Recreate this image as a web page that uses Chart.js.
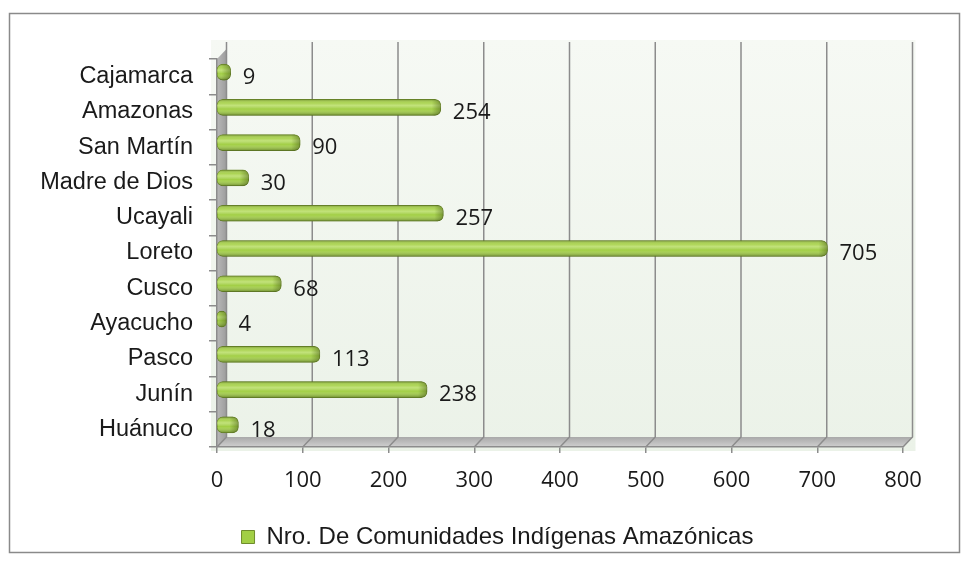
<!DOCTYPE html>
<html>
<head>
<meta charset="utf-8">
<script src="https://cdn.jsdelivr.net/npm/chart.js@4.4.1/dist/chart.umd.min.js"></script>
<style>
  html, body { margin: 0; padding: 0; background: #ffffff; }
  canvas { display: block; }
</style>
</head>
<body>
<canvas id="grafico" width="966" height="567"></canvas>
<script>
// Comunidades indígenas amazónicas por región
const regiones = ['Cajamarca', 'Amazonas', 'San Martín', 'Madre de Dios', 'Ucayali', 'Loreto', 'Cusco', 'Ayacucho', 'Pasco', 'Junín', 'Huánuco'];
const comunidades = [9, 254, 90, 30, 257, 705, 68, 4, 113, 238, 18];
const serieNombre = 'Nro. De Comunidades Indígenas Amazónicas';
const ejeMin = 0;
const ejeMax = 800;
const ejePaso = 100;

// Profundidad del efecto 3D (pared de fondo y barras)
const PROF_X = 9.5, PROF_Y = -10;
const BARRA_DX = 6, BARRA_DY = -4.5;
// desplazamiento horizontal de la leyenda
const LEYENDA_DX = 40;

const GRIS = '#8c8c8c';
const TEXTO = '#1a1a1a';

const efecto3D = {
  id: 'efecto3D',
  afterLayout(chart) {
    chart.legend.left += LEYENDA_DX;
    chart.legend.right += LEYENDA_DX;
  },
  beforeDraw(chart) {
    const ctx = chart.ctx;
    const { left, right, top, bottom } = chart.chartArea;
    ctx.save();
    // fondo y marco exterior
    ctx.fillStyle = '#ffffff';
    ctx.fillRect(0, 0, chart.width, chart.height);
    ctx.strokeStyle = '#8a8a8a';
    ctx.lineWidth = 1.5;
    ctx.strokeRect(9.5, 13.5, 950, 539);

    // fondo del área de trazado
    const g = ctx.createLinearGradient(0, top - 19, 0, bottom + 4);
    g.addColorStop(0, '#f6f9f4');
    g.addColorStop(1, '#ebf2e8');
    ctx.fillStyle = g;
    ctx.fillRect(left - 6, top - 19, right - left + PROF_X + 9, bottom - top + 23);

    // pared lateral
    const gl = ctx.createLinearGradient(left, 0, left + PROF_X, 0);
    gl.addColorStop(0, '#b8b8b8');
    gl.addColorStop(1, '#9c9c9c');
    ctx.fillStyle = gl;
    ctx.beginPath();
    ctx.moveTo(left, top);
    ctx.lineTo(left + PROF_X, top + PROF_Y);
    ctx.lineTo(left + PROF_X, bottom + PROF_Y);
    ctx.lineTo(left, bottom);
    ctx.closePath();
    ctx.fill();

    // piso
    const gp = ctx.createLinearGradient(0, bottom + PROF_Y, 0, bottom);
    gp.addColorStop(0, '#a9a9a9');
    gp.addColorStop(1, '#cfcfcf');
    ctx.fillStyle = gp;
    ctx.beginPath();
    ctx.moveTo(left, bottom);
    ctx.lineTo(right, bottom);
    ctx.lineTo(right + PROF_X, bottom + PROF_Y);
    ctx.lineTo(left + PROF_X, bottom + PROF_Y);
    ctx.closePath();
    ctx.fill();

    // líneas de división sobre la pared de fondo y el piso
    const xs = chart.scales.x;
    ctx.strokeStyle = GRIS;
    ctx.lineWidth = 1.5;
    for (let v = ejeMin; v <= ejeMax; v += ejePaso) {
      const px = xs.getPixelForValue(v);
      const bx = px + PROF_X;
      ctx.beginPath();
      ctx.moveTo(px, bottom);
      ctx.lineTo(bx, bottom + PROF_Y);
      ctx.lineTo(bx, top - 17);
      ctx.stroke();
    }
    ctx.restore();
  },
  afterDatasetsUpdate(chart) {
    const left = chart.chartArea.left;
    chart.getDatasetMeta(0).data.forEach(el => {
      el.x += BARRA_DX;
      el.y += BARRA_DY;
      el.base = left;
    });
  },
  afterDatasetsDraw(chart) {
    const ctx = chart.ctx;
    const meta = chart.getDatasetMeta(0);
    ctx.save();
    // volumen de cada barra
    meta.data.forEach(el => {
      const h = el.height;
      const x0 = el.base, x1 = el.x;
      const y0 = el.y - h / 2;
      const r = Math.min(6, (x1 - x0) / 2, h / 2);
      ctx.beginPath();
      ctx.roundRect(x0, y0, x1 - x0, h, r);
      const gv = ctx.createLinearGradient(0, y0, 0, y0 + h);
      gv.addColorStop(0, 'rgba(70,95,20,0.5)');
      gv.addColorStop(0.22, 'rgba(255,255,220,0.10)');
      gv.addColorStop(0.38, 'rgba(240,255,200,0.40)');
      gv.addColorStop(0.6, 'rgba(255,255,255,0)');
      gv.addColorStop(1, 'rgba(55,75,15,0.5)');
      ctx.fillStyle = gv;
      ctx.fill();
      const gh = ctx.createLinearGradient(x1 - 9, 0, x1, 0);
      gh.addColorStop(0, 'rgba(60,80,15,0)');
      gh.addColorStop(1, 'rgba(60,80,15,0.45)');
      ctx.fillStyle = gh;
      ctx.fill();
    });
    // valores de cada barra
    const xs = chart.scales.x, ys = chart.scales.y;
    ctx.font = '22px "Open Sans", sans-serif';
    ctx.fillStyle = TEXTO;
    ctx.textAlign = 'left';
    ctx.textBaseline = 'middle';
    comunidades.forEach((v, i) => {
      ctx.fillText(String(v), xs.getPixelForValue(v) + BARRA_DX + 12, ys.getPixelForValue(i) + 1);
    });
    ctx.restore();
  }
};

new Chart(document.getElementById('grafico'), {
  type: 'bar',
  data: {
    labels: regiones,
    datasets: [{
      label: serieNombre,
      data: comunidades,
      backgroundColor: '#a2cf45',
      borderColor: '#6f8c2c',
      borderWidth: 1,
      borderSkipped: false,
      borderRadius: 6,
      barThickness: 16,
      clip: false
    }]
  },
  options: {
    indexAxis: 'y',
    responsive: false,
    animation: false,
    devicePixelRatio: 1,
    layout: { padding: { left: 12, right: 63, top: 59, bottom: 8 } },
    plugins: {
      legend: {
        position: 'bottom',
        labels: {
          boxWidth: 13,
          boxHeight: 13,
          padding: 10,
          color: TEXTO,
          font: { family: '"Liberation Sans", Arial, sans-serif', size: 24 }
        }
      },
      tooltip: { enabled: false }
    },
    scales: {
      x: {
        min: ejeMin,
        max: ejeMax,
        ticks: {
          stepSize: ejePaso,
          padding: 15,
          color: TEXTO,
          font: { family: '"Open Sans", sans-serif', size: 22 }
        },
        grid: { drawOnChartArea: false, drawTicks: true, tickLength: 6, color: GRIS, lineWidth: 1.5 },
        border: { color: GRIS, width: 1.5 },
        afterFit(s) { s.height = 68; }
      },
      y: {
        ticks: {
          autoSkip: false,
          padding: 16,
          color: TEXTO,
          font: { family: '"Liberation Sans", Arial, sans-serif', size: 23.5 }
        },
        grid: { drawOnChartArea: false, drawTicks: true, tickLength: 8, color: GRIS, lineWidth: 1.5, offset: true },
        border: { color: GRIS, width: 1.5 },
        afterFit(s) { s.width = 205; }
      }
    }
  },
  plugins: [efecto3D]
});
</script>
</body>
</html>
